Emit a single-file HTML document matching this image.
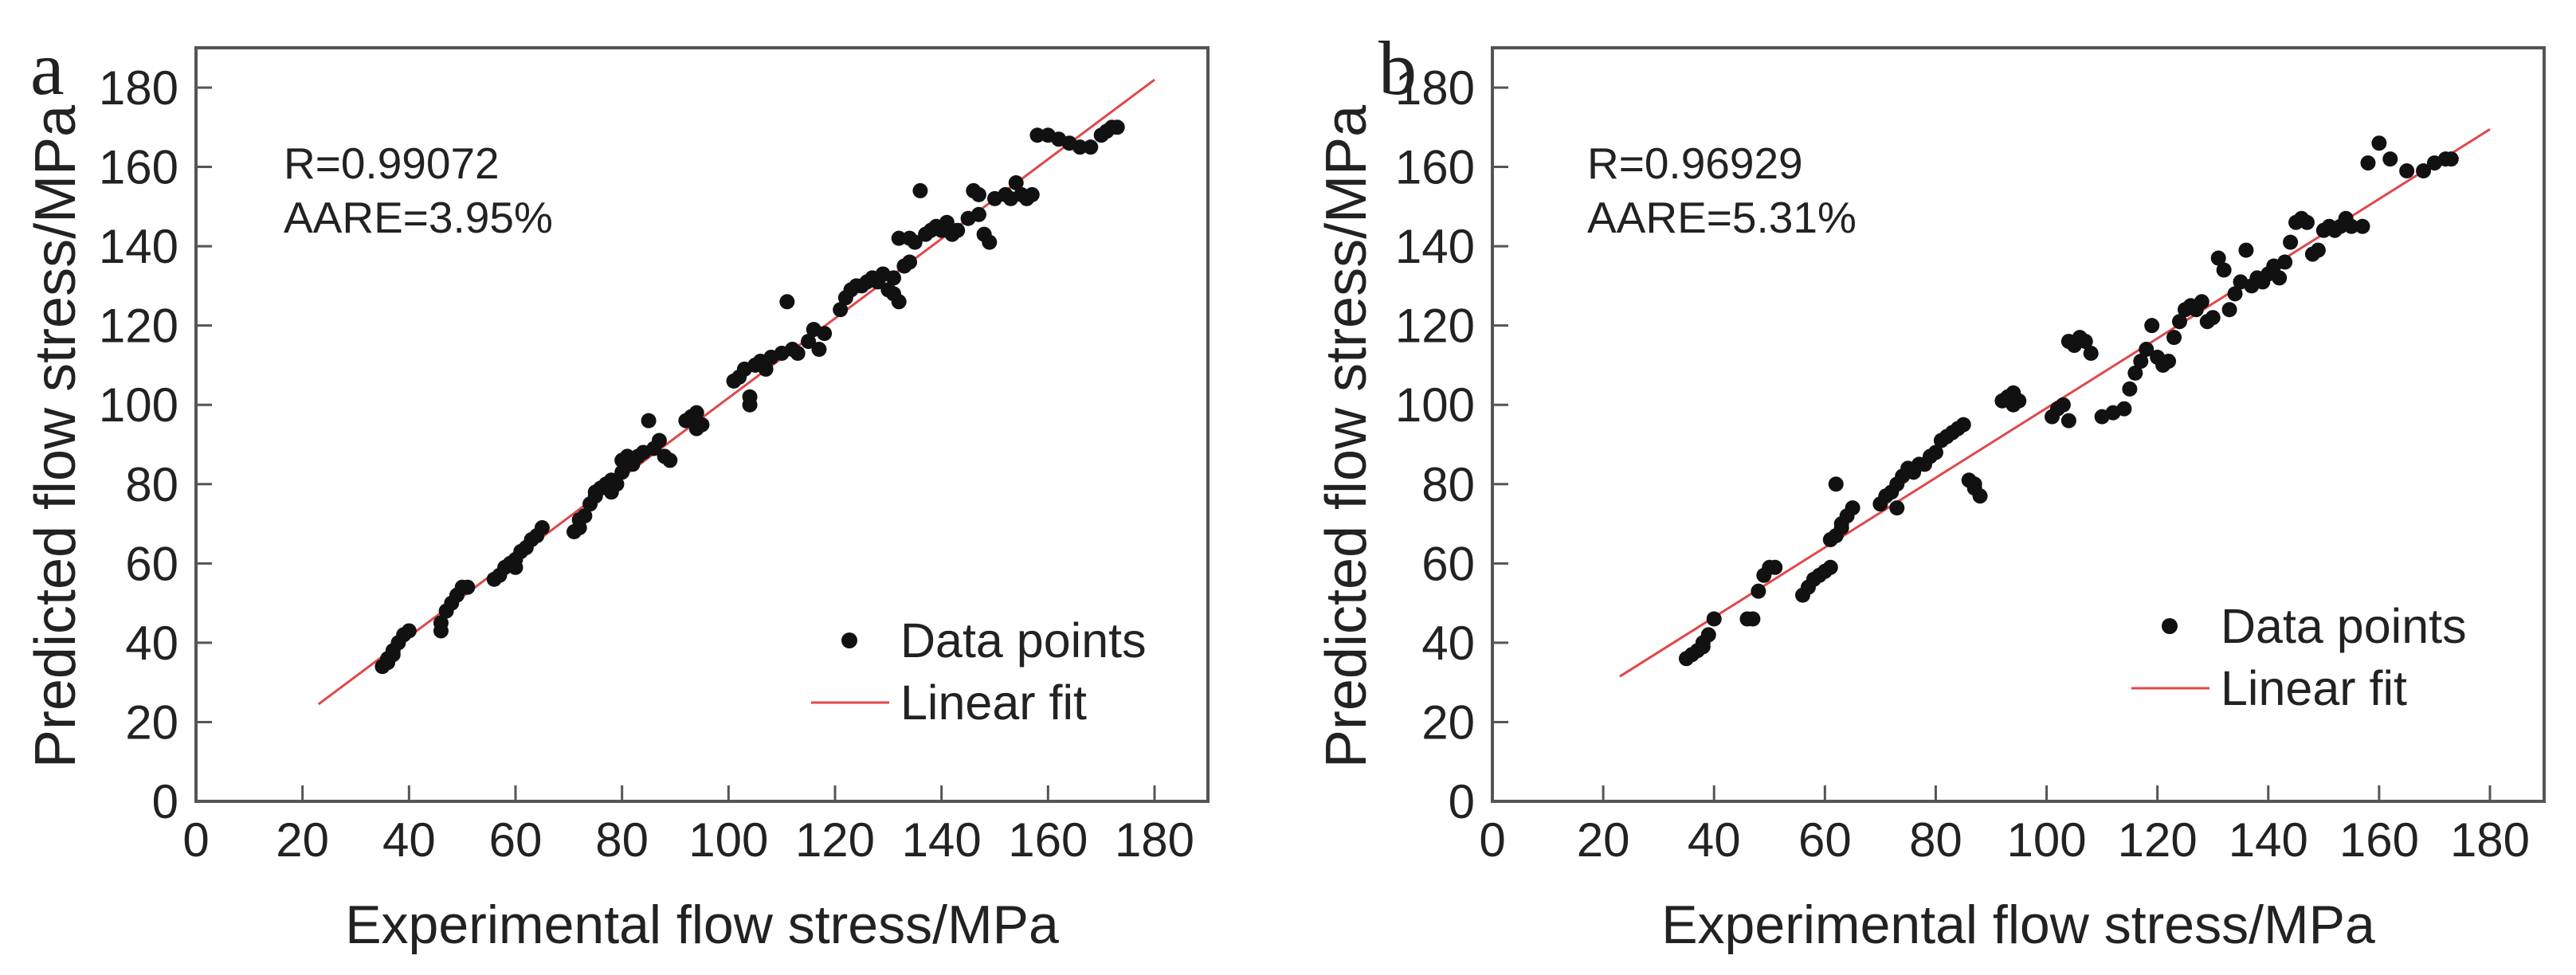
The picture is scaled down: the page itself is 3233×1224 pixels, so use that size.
<!DOCTYPE html>
<html><head><meta charset="utf-8"><style>
html,body{margin:0;padding:0;background:#fff;}
svg{display:block;}
text{font-family:"Liberation Sans",Arial,sans-serif;fill:#222;}
</style></head><body>
<svg id="fig" width="3233" height="1224" viewBox="0 0 3233 1224" xmlns="http://www.w3.org/2000/svg"></svg>
<script>
const ticks = [0,20,40,60,80,100,120,140,160,180];
const aX = [35,36,37,38,39,40,36,37,46,46,47,48,49,50,51,56,57,58,59,60,60,61,62,63,64,65,71,72,72,73,74,75,75,76,77,78,78,79,80,80,81,82,83,84,85,86,87,88,89,92,93,94,95,94,101,102,103,104,104,105,106,107,108,110,111,112,113,115,116,117,118,121,122,123,124,125,126,127,128,129,130,131,132,131,133,134,132,134,135,136,137,138,139,140,141,142,143,145,146,147,148,149,147,150,152,153,154,155,156,157,158,160,162,164,166,168,170,171,172,173];
const aY = [34,36,38,40,42,43,35,37,43,45,48,50,52,54,54,56,57,59,60,61,59,63,64,66,67,69,68,69,71,72,75,77,78,79,80,81,78,80,83,86,87,85,87,88,96,89,91,87,86,96,97,98,95,94,106,107,109,102,100,110,111,109,112,113,126,114,113,116,119,114,118,124,127,129,130,130,131,132,131,133,129,128,126,132,135,136,142,142,141,154,143,144,145,144,146,143,144,147,154,148,143,141,153,152,153,152,156,153,152,153,168,168,167,166,165,165,168,169,170,170];
const bX = [35,36,37,38,39,40,38,46,47,48,49,50,51,56,57,58,59,60,61,61,62,62,63,63,64,65,70,71,72,73,73,74,75,76,77,78,79,80,81,82,83,84,85,86,87,88,87,92,93,94,95,94,101,102,103,104,104,105,106,107,108,110,112,114,115,116,117,118,119,120,121,122,123,124,125,126,127,128,129,130,131,132,133,134,135,136,137,138,139,140,141,142,143,144,145,146,147,148,149,150,151,152,153,154,155,157,158,160,162,165,168,170,172,173];
const bY = [36,37,38,40,42,46,39,46,46,53,57,59,59,52,54,56,57,58,59,66,67,80,70,69,72,74,75,77,78,74,80,82,84,83,85,85,87,88,91,92,93,94,95,81,79,77,80,101,102,103,101,100,97,99,100,96,116,115,117,116,113,97,98,99,104,108,111,114,120,112,110,111,117,121,124,125,124,126,121,122,137,134,124,128,131,139,130,132,131,133,135,132,136,141,146,147,146,138,139,144,145,144,145,147,145,145,161,166,162,159,159,161,162,162];
const fitA = [[23,24.5],[180,182]];
const fitB = [[23,31.5],[180,169.5]];

const NS="http://www.w3.org/2000/svg";
const svg=document.getElementById('fig');
function mk(tag,attrs,parent,txt){const e=document.createElementNS(NS,tag);for(const k in attrs)e.setAttribute(k,attrs[k]);if(txt!==undefined)e.textContent=txt;(parent||svg).appendChild(e);return e;}

function panel(p){
  const g=mk('g',{});
  
  
  const sx=v=>p.x0+v*(p.x180-p.x0)/180;
  const sy=v=>1006-v*(1006-110)/180;
  const fl=mk('line',{x1:sx(p.fit[0][0]),y1:sy(p.fit[0][1]),x2:sx(p.fit[1][0]),y2:sy(p.fit[1][1]),stroke:'#e0484a','stroke-width':3},g);
  
  
  for(let i=0;i<p.xs.length;i++){
    const c=mk('circle',{cx:sx(p.xs[i]),cy:sy(p.ys[i]),r:9.5,fill:'#111'},g);
    
    
  }
  const fr=mk('rect',{x:p.x0,y:60,width:p.right-p.x0,height:946,fill:'none',stroke:'#555','stroke-width':4},g);
  
  
  ticks.forEach(t=>{
    if(t>0){
      const tx=mk('line',{x1:sx(t),y1:1006,x2:sx(t),y2:986,stroke:'#555','stroke-width':3},g);
      
      
      const ty=mk('line',{x1:p.x0,y1:sy(t),x2:p.x0+20,y2:sy(t),stroke:'#555','stroke-width':3},g);
      
      
    }
    const lx=mk('text',{x:sx(t),y:1075,'font-size':60,'text-anchor':'middle'},g,String(t));
    
    
    const ly=mk('text',{x:p.x0-22,y:sy(t)+21,'font-size':60,'text-anchor':'end'},g,String(t));
    
    
  });
  const xt=mk('text',{x:(p.x0+p.right)/2,y:1184,'font-size':68,'text-anchor':'middle'},g,'Experimental flow stress/MPa');
  
  
  const yt=mk('text',{x:0,y:0,'font-size':72,'text-anchor':'middle',transform:`translate(${p.ytx},548) rotate(-90)`},g,'Predicted flow stress/MPa');
  
  
  const lab=mk('text',{x:p.labx,y:118,'font-size':96,style:'font-family:"Liberation Serif",serif'},g,p.id);
  
  
  const r=mk('text',{x:p.rx,y:224,'font-size':55},g,p.r);
  
  
  const a=mk('text',{x:p.rx,y:292,'font-size':55},g,p.aare);
  
  
  const ld=mk('circle',{cx:p.legx+48,cy:p.legy,r:10,fill:'#111'},g);
  
  
  const lt=mk('text',{x:p.legx+112,y:p.legy+21,'font-size':61},g,'Data points');
  
  
  const ll=mk('line',{x1:p.legx,y1:p.legy+78,x2:p.legx+98,y2:p.legy+78,stroke:'#e0484a','stroke-width':3},g);
  
  
  const lf=mk('text',{x:p.legx+112,y:p.legy+99,'font-size':61},g,'Linear fit');
  
  
}
panel({id:'a',x0:246,x180:1449,right:1516,xs:aX,ys:aY,fit:fitA,ytx:94,labx:38,rx:356,r:'R=0.99072',aare:'AARE=3.95%',legx:1018,legy:804});
panel({id:'b',x0:1873,x180:3125,right:3193,xs:bX,ys:bY,fit:fitB,ytx:1714,labx:1730,rx:1992,r:'R=0.96929',aare:'AARE=5.31%',legx:2675,legy:786});
</script>
</body></html>
